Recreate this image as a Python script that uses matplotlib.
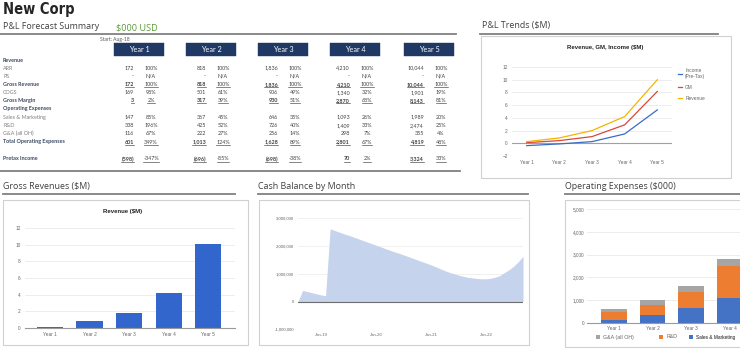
import matplotlib
matplotlib.use("Agg")
import matplotlib.pyplot as plt
from matplotlib.patches import Rectangle
from matplotlib.lines import Line2D
from matplotlib import font_manager
import numpy as np

# ---------------- data ----------------
years = ["Year 1", "Year 2", "Year 3", "Year 4", "Year 5"]
arr = [172, 818, 1836, 4210, 10044]
gross_rev = [172, 818, 1836, 4210, 10044]
cogs = [169, 501, 906, 1340, 1901]
cogs_pct = [98, 61, 49, 32, 19]
gross_margin = [3, 317, 930, 2870, 8143]
gm_pct = [2, 39, 51, 68, 81]
sm = [147, 367, 646, 1093, 1989]
sm_pct = [85, 45, 35, 26, 20]
rd = [338, 425, 726, 1409, 2474]
rd_pct = [196, 52, 40, 33, 25]
ga = [116, 222, 256, 298, 355]
ga_pct = [67, 27, 14, 7, 4]
total_opex = [601, 1013, 1628, 2801, 4819]
opex_pct = [349, 124, 89, 67, 48]
pretax = [-598, -696, -698, 70, 3324]
pretax_pct = [-347, -85, -38, 2, 33]

trend_income = [-0.37, -0.1, 0.26, 1.47, 5.25]
trend_gm = [0.1, 0.42, 1.05, 2.9, 8.15]
trend_revenue = [0.26, 0.84, 2.0, 4.2, 10.0]

revenue_m = [0.17, 0.82, 1.84, 4.21, 10.04]

cash_months = ["Aug-18", "Sep-18", "Oct-18", "Nov-18", "Dec-18",
               "Jan-19", "Feb-19", "Mar-19", "Apr-19", "May-19", "Jun-19", "Jul-19", "Aug-19",
               "Sep-19", "Oct-19", "Nov-19", "Dec-19",
               "Jan-20", "Feb-20", "Mar-20", "Apr-20", "May-20", "Jun-20", "Jul-20", "Aug-20",
               "Sep-20", "Oct-20", "Nov-20", "Dec-20",
               "Jan-21", "Feb-21", "Mar-21", "Apr-21", "May-21", "Jun-21", "Jul-21", "Aug-21",
               "Sep-21", "Oct-21", "Nov-21", "Dec-21",
               "Jan-22", "Feb-22", "Mar-22", "Apr-22", "May-22", "Jun-22", "Jul-22", "Aug-22",
               "Sep-22"]
cash_balance = [0, 400000, 360000, 320000, 280000,
                240000, 210000, 2620000, 2560000, 2500000, 2440000, 2390000, 2330000,
                2270000, 2210000, 2150000, 2090000,
                2030000, 1970000, 1910000, 1850000, 1790000, 1740000, 1680000, 1620000,
                1560000, 1500000, 1440000, 1380000,
                1320000, 1250000, 1180000, 1110000, 1050000, 1000000, 950000, 910000,
                870000, 850000, 830000, 820000,
                820000, 840000, 880000, 940000, 1050000, 1150000, 1280000, 1440000,
                1630000]
cash_ticks = ["Jan-19", "Jan-20", "Jan-21", "Jan-22"]
cash_yticks = [-1000000, 0, 1000000, 2000000, 3000000]

opex_labels = ["Sales & Marketing", "R&D", "G&A (all OH)"]

# ---------------- helpers ----------------
W, H = 740, 351
fig = plt.figure(figsize=(W / 100, H / 100), dpi=100)
fig.patch.set_facecolor("white")

TAB = ["Lato", "DejaVu Sans"]
TITLE = ["Open Sans", "DejaVu Sans"]
CH = ["Liberation Sans", "DejaVu Sans"]

_fonts = font_manager.fontManager.ttflist
_names = {f.name for f in _fonts}
if "Liberation Sans Narrow" in _names:
    HEAD_KW = dict(family=["Liberation Sans Narrow", "DejaVu Sans"], fontsize=12.5)
elif any(f.name == "DejaVu Sans" and f.stretch == "condensed" for f in _fonts):
    HEAD_KW = dict(family=["DejaVu Sans"], fontstretch="condensed", fontsize=10.5)
else:
    HEAD_KW = dict(family=["DejaVu Sans"], fontsize=8.5)


def fy(y):
    return 1 - y / H


def txt(x, y, s, **kw):
    kw.setdefault("va", "center")
    return fig.text(x / W, fy(y), s, **kw)


def hline(x0, x1, y, color="#7f7f7f", lw=1.2):
    fig.add_artist(Line2D([x0 / W, x1 / W], [fy(y), fy(y)], color=color, lw=lw,
                          transform=fig.transFigure))


def rect(x0, y0, x1, y1, fc="white", ec="#d0d0d0", lw=0.8, z=0):
    fig.add_artist(Rectangle((x0 / W, fy(y1)), (x1 - x0) / W, (y1 - y0) / H,
                             transform=fig.transFigure, fc=fc, ec=ec, lw=lw, zorder=z))


def add_ax(x0, y0, x1, y1):
    return fig.add_axes([x0 / W, fy(y1), (x1 - x0) / W, (y1 - y0) / H])


def fmt_num(v):
    if v < 0:
        return "({:,})".format(-v)
    return "{:,}".format(v)


# ---------------- header / table ----------------
txt(3, 9.5, "New Corp", fontweight="bold", color="#262626", **HEAD_KW)
txt(3, 26.5, "P&L Forecast Summary", fontsize=6.4, family=TITLE, color="#404040")
txt(116, 28, "$000 USD", fontsize=6.6, family=TITLE, color="#5b9a3a")
hline(0, 456, 34, color="#808080", lw=1.3)
txt(100, 39, "Start: Aug-18", fontsize=3.6, family=TAB, color="#595959")

box_x = [114, 186, 258, 330, 404]
box_w = 50
for i, yl in enumerate(years):
    x0 = box_x[i]
    rect(x0, 43, x0 + box_w, 55.5, fc="#1f3864", ec="#1f3864", lw=0.3, z=1)
    txt(x0 + box_w / 2, 49.5, yl, fontsize=5.2, family=TAB, color="white", ha="center")

rows = [
    ("Revenue", None, None, "head"),
    ("ARR", arr, [100] * 5, "norm"),
    ("PS", "dash", "na", "norm"),
    ("Gross Revenue", gross_rev, [100] * 5, "bold"),
    ("COGS", cogs, cogs_pct, "norm"),
    ("Gross Margin", gross_margin, gm_pct, "bold"),
    ("Operating Expenses", None, None, "head"),
    ("Sales & Marketing", sm, sm_pct, "norm"),
    ("R&D", rd, rd_pct, "norm"),
    ("G&A (all OH)", ga, ga_pct, "norm"),
    ("Total Operating Expenses", total_opex, opex_pct, "bold"),
    ("Pretax Income", pretax, pretax_pct, "bold"),
]
row_y = [60, 68, 76, 84.3, 92.3, 100.6, 108.8, 117.2, 125.5, 133.7, 142, 159]

underline_texts = []
for (lab, vals, pcts, kind), y in zip(rows, row_y):
    if kind == "norm":
        txt(3, y, lab, fontsize=3.9, family=TAB, color="#7f7f7f")
    else:
        txt(3, y, lab, fontsize=3.9, family=TAB, color="#3b4a63", fontweight="bold")
    if vals is None:
        continue
    for i in range(5):
        c = box_x[i] + box_w / 2
        if isinstance(vals, str):
            sv = "-"
            sp = "N/A"
        else:
            sv = fmt_num(vals[i])
            sp = "{}%".format(pcts[i])
        t1 = txt(c - 5, y, sv, fontsize=3.9, family=TAB, color="#404040", ha="right",
                 fontweight="bold" if kind == "bold" else "normal")
        t2 = txt(c + 12, y, sp, fontsize=3.9, family=TAB, color="#404040", ha="center")
        if kind == "bold":
            underline_texts += [t1, t2]

hline(0, 460, 170.5, color="#808080", lw=1.3)

# ---------------- P&L trends ----------------
txt(482, 25.5, "P&L Trends ($M)", fontsize=6.4, family=TITLE, color="#404040")
hline(480, 718, 33.5, color="#808080", lw=1.3)
rect(481, 36, 731, 178)
txt(605, 47, "Revenue, GM, Income ($M)", fontsize=4.3, family=CH, fontweight="bold",
    color="#222222", ha="center")

ax = add_ax(512, 67, 672, 156)
xs = np.arange(5)
l1, = ax.plot(xs, trend_income, color="#3a6cc6", lw=0.9, label="Income\n(Pre-Tax)")
l2, = ax.plot(xs, trend_gm, color="#d9473a", lw=0.9, label="GM")
l3, = ax.plot(xs, trend_revenue, color="#f4b400", lw=0.9, label="Revenue")
ax.set_xlim(-0.45, 4.45)
ax.set_ylim(-2, 12)
ax.set_yticks(range(-2, 13, 2))
ax.set_xticks(xs)
ax.set_xticklabels(years)
ax.grid(axis="y", color="#e6e6e6", lw=0.5)
ax.axhline(0, color="#a0a0a0", lw=0.8, zorder=1)
for s in ax.spines.values():
    s.set_visible(False)
ax.tick_params(length=0, labelsize=3.4, labelcolor="#666666", pad=3)
for t in ax.get_xticklabels() + ax.get_yticklabels():
    t.set_family(CH)
ax.set_axisbelow(True)
leg = ax.legend(handles=[l1, l2, l3], loc="upper left", bbox_to_anchor=((676 - 512) / 160, 1.01),
                frameon=False, fontsize=3.5, handlelength=0.9, labelspacing=1.2,
                handletextpad=0.6, borderaxespad=0)
for t in leg.get_texts():
    t.set_color("#666666")
    t.set_family(CH)

# ---------------- Gross revenues ----------------
txt(3, 187, "Gross Revenues ($M)", fontsize=6.4, family=TITLE, color="#404040")
hline(3, 235, 194, color="#808080", lw=1.3)
rect(3, 200, 248, 345)
txt(123, 211, "Revenue ($M)", fontsize=4.3, family=CH, fontweight="bold",
    color="#222222", ha="center")
ax2 = add_ax(25, 228, 235, 328)
ax2.bar(xs, revenue_m, width=0.66, color="#3366cc")
ax2.set_xlim(-0.63, 4.68)
ax2.set_ylim(0, 12)
ax2.set_yticks(range(0, 13, 2))
ax2.set_xticks(xs)
ax2.set_xticklabels(years)
ax2.grid(axis="y", color="#e6e6e6", lw=0.5)
ax2.set_axisbelow(True)
for k, s in ax2.spines.items():
    s.set_visible(k == "bottom")
ax2.spines["bottom"].set_color("#9a9a9a")
ax2.spines["bottom"].set_linewidth(0.8)
ax2.tick_params(length=0, labelsize=3.4, labelcolor="#666666", pad=3)
for t in ax2.get_xticklabels() + ax2.get_yticklabels():
    t.set_family(CH)

# ---------------- Cash balance ----------------
txt(258, 187, "Cash Balance by Month", fontsize=6.4, family=TITLE, color="#404040")
hline(258, 528, 194, color="#808080", lw=1.3)
rect(259, 200, 529, 345)
ax3 = add_ax(298, 218.3, 523, 329.3)
mi = np.arange(len(cash_balance))
ax3.fill_between(mi, 0, cash_balance, color="#c5d3ec", lw=0)
ax3.set_xlim(0, len(cash_balance) - 1)
ax3.set_ylim(-1000000, 3000000)
ax3.set_yticks(cash_yticks)
ax3.set_yticklabels(["{:,}".format(v) for v in cash_yticks])
ax3.set_xticks([cash_months.index(m) for m in cash_ticks])
ax3.set_xticklabels(cash_ticks)
ax3.grid(axis="y", color="#ececec", lw=0.5)
ax3.set_axisbelow(True)
ax3.axhline(0, color="#6d6d6d", lw=0.8)
for s in ax3.spines.values():
    s.set_visible(False)
ax3.tick_params(length=0, labelsize=3.1, labelcolor="#666666", pad=3)
for t in ax3.get_xticklabels() + ax3.get_yticklabels():
    t.set_family(CH)

# ---------------- Operating expenses ----------------
txt(565, 187, "Operating Expenses ($000)", fontsize=6.4, family=TITLE, color="#404040")
hline(565, 740, 194, color="#808080", lw=1.3)
rect(565, 200, 760, 347)
# the panel is cut by the right edge of the picture: Year 5 lies beyond it
ax4 = add_ax(587, 209, 740, 323)
b1 = ax4.bar(xs, sm, width=0.65, color="#4472c4", label=opex_labels[0])
b2 = ax4.bar(xs, rd, width=0.65, bottom=sm, color="#ed7d31", label=opex_labels[1])
b3 = ax4.bar(xs, ga, width=0.65, bottom=np.add(sm, rd), color="#a5a5a5", label=opex_labels[2])
step = 38.5
ax4.set_xlim(-(614 - 587) / step, (740 - 614) / step)
ax4.set_ylim(0, 5000)
ax4.set_yticks(range(0, 5001, 1000))
ax4.set_yticklabels(["{:,}".format(v) for v in range(0, 5001, 1000)])
ax4.set_xticks(xs[:4])
ax4.set_xticklabels(years[:4])
ax4.grid(axis="y", color="#e6e6e6", lw=0.5)
ax4.set_axisbelow(True)
for k, s in ax4.spines.items():
    s.set_visible(k == "bottom")
ax4.spines["bottom"].set_color("#9a9a9a")
ax4.spines["bottom"].set_linewidth(0.8)
ax4.tick_params(length=0, labelsize=3.4, labelcolor="#666666", pad=2)
for t in ax4.get_xticklabels() + ax4.get_yticklabels():
    t.set_family(CH)
# legend entries placed like the reference (uneven spacing)
leg_x = [596, 659, 689]
leg_fs = [3.8, 3.8, 3.4]
for hnd, lx, fs in zip([b3, b2, b1], leg_x, leg_fs):
    lg = ax4.legend(handles=[hnd], loc="center left",
                    bbox_to_anchor=((lx - 587) / 153, (323 - 337) / 114),
                    frameon=False, fontsize=fs, handlelength=0.8, handleheight=0.8,
                    handletextpad=0.6, borderaxespad=0, borderpad=0)
    for t in lg.get_texts():
        t.set_color("#666666")
        t.set_family(CH)
    ax4.add_artist(lg)

# ---------------- underlines ----------------
fig.canvas.draw()
r = fig.canvas.get_renderer()
for t in underline_texts:
    bb = t.get_window_extent(renderer=r)
    yb = bb.y0 - 0.3
    fig.add_artist(Line2D([bb.x0 / W, bb.x1 / W], [yb / H, yb / H], color="#404040",
                          lw=0.45, transform=fig.transFigure))

fig.savefig("out.png", dpi=100, facecolor="white")
